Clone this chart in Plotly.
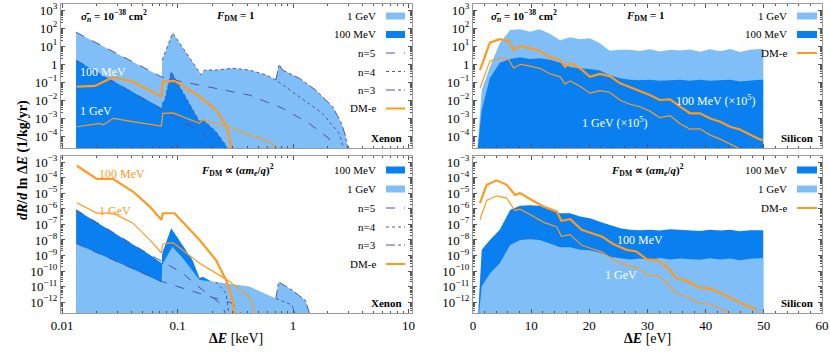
import plotly.graph_objects as go

# ---------------- data ----------------
# Xenon, F_DM = 1 (top-left). Energies in keV, rates in 1/kg/yr
xe1_gev_E = [0.0132, 0.0728, 0.0735, 0.0906, 0.16, 0.171, 0.215, 0.30, 0.418, 0.58, 0.71,
             0.757, 0.81, 1.13, 1.57, 2.2, 2.63, 2.85, 3.04]
xe1_gev_R = [60, 0.2, 1.7, 55, 0.26, 0.48, 0.48, 0.6, 0.48, 0.26, 0.135,
             1.0, 0.48, 0.17, 0.037, 4.4e-3, 5.2e-4, 1e-4, 1e-5]
xe1_mev_E = [0.0132, 0.0728, 0.0735, 0.078, 0.088, 0.155, 0.165, 0.215, 0.263, 0.28]
xe1_mev_R = [1.7, 3.6e-3, 6e-3, 0.012, 0.39, 6.4e-4, 8.7e-4, 1.8e-4, 3e-5, 1e-5]
xe1_n5_gev_E = [0.0132, 0.0728, 0.085, 0.155, 0.418, 0.81, 1.37, 2.04, 2.25]
xe1_n5_gev_R = [60, 0.2, 0.15, 0.07, 0.0195, 3.6e-3, 5.3e-4, 7.7e-5, 1e-5]
xe1_n4_gev_E = [0.0735, 0.0906, 0.16, 0.171, 0.215, 0.30, 0.418, 0.58, 0.71, 1.13, 1.79, 2.5, 2.84]
xe1_n4_gev_R = [1.7, 55, 0.26, 0.48, 0.48, 0.6, 0.48, 0.26, 0.135, 0.016, 1.9e-3, 1.5e-4, 1e-5]
xe1_n3_gev_E = [0.71, 0.757, 0.81, 1.13, 1.57, 2.2, 2.63, 2.85, 3.04]
xe1_n3_gev_R = [0.135, 1.0, 0.48, 0.17, 0.037, 4.4e-3, 5.2e-4, 1e-4, 1e-5]
xe1_n5_mev_E = [0.0132, 0.0728, 0.09, 0.111, 0.165, 0.215]
xe1_n5_mev_R = [1.7, 3.2e-3, 1.5e-3, 6e-4, 1.8e-4, 1e-5]
xe1_n4_mev_E = [0.0735, 0.078, 0.088, 0.155, 0.165, 0.215, 0.263, 0.28]
xe1_n4_mev_R = [6e-3, 0.012, 0.39, 6.4e-4, 8.7e-4, 1.8e-4, 3e-5, 1e-5]
xe1_dme_mev_E = [0.0134, 0.0192, 0.0277, 0.041, 0.0723, 0.0745, 0.094, 0.119, 0.155, 0.215, 0.263, 0.285, 0.295]
xe1_dme_mev_R = [0.057, 0.063, 0.19, 0.107, 0.016, 0.11, 0.12, 0.045, 0.016, 2.9e-3, 4.3e-4, 5e-5, 1e-5]
xe1_dme_gev_E = [0.0134, 0.0212, 0.0227, 0.0277, 0.041, 0.0723, 0.0745, 0.091, 0.155, 0.165, 0.30, 0.418, 0.58, 0.71, 0.75]
xe1_dme_gev_R = [3.4e-4, 5.2e-4, 4.3e-4, 1e-3, 6.5e-4, 3.7e-4, 1.9e-3, 2e-3, 5.2e-4, 8e-4, 2.8e-4, 1.2e-4, 6.3e-5, 2.6e-5, 1.5e-5]

# Xenon, F_DM ~ (alpha m_e / q)^2 (bottom-left)
xe2_mev_E = [0.0132, 0.0574, 0.0728, 0.0735, 0.088, 0.135, 0.155, 0.165, 0.2, 0.205]
xe2_mev_R = [8.7e-7, 1.1e-9, 3.2e-10, 1.4e-9, 5.6e-8, 5e-10, 3.4e-11, 4.3e-11, 2e-11, 1e-14]
xe2_gev_E = [0.0132, 0.0574, 0.0728, 0.0735, 0.09, 0.111, 0.155, 0.215, 0.418, 0.71, 0.75,
             0.98, 1.28, 1.57]
xe2_gev_R = [6e-9, 4.3e-11, 1.8e-11, 2.5e-10, 3.7e-9, 6.6e-10, 2.6e-11, 2e-11, 1e-11, 1.7e-12, 2e-11,
             5.9e-12, 1.3e-12, 1e-14]
xe2_n5_mev_E = [0.0132, 0.0574, 0.0745, 0.111, 0.165, 0.245, 0.29]
xe2_n5_mev_R = [8.7e-7, 1.1e-9, 4e-10, 7e-11, 5.9e-12, 6.5e-13, 1e-14]
xe2_n5_gev_E = [0.0132, 0.0574, 0.0745, 0.155, 0.30, 0.50]
xe2_n5_gev_R = [6e-9, 4.3e-11, 2e-11, 3.6e-12, 8.3e-13, 1e-14]
xe2_n4_gev_E = [0.215, 0.263, 0.29]
xe2_n4_gev_R = [2e-11, 3.6e-12, 1e-14]
xe2_n4b_gev_E = [0.71, 0.98, 1.2]
xe2_n4b_gev_R = [1.7e-12, 6.5e-13, 1e-14]
xe2_n3_gev_E = [0.71, 0.75, 0.98, 1.28, 1.57]
xe2_n3_gev_R = [1.7e-12, 2e-11, 5.9e-12, 1.3e-12, 1e-14]
xe2_dme_mev_E = [0.0134, 0.0199, 0.0277, 0.041, 0.0574, 0.0723, 0.0745, 0.094, 0.155, 0.215, 0.263, 0.30, 0.32]
xe2_dme_mev_R = [5.9e-4, 8.3e-5, 8.3e-5, 1.3e-5, 1.4e-6, 2e-7, 5.2e-7, 5.2e-7, 1e-8, 5e-10, 2.6e-11, 1.3e-12, 1e-14]
xe2_dme_gev_E = [0.0134, 0.0199, 0.0277, 0.041, 0.0574, 0.0723, 0.0745, 0.091, 0.155, 0.215, 0.27, 0.418, 0.54]
xe2_dme_gev_R = [2.5e-6, 5.3e-7, 5.3e-7, 1.2e-7, 1e-8, 1.5e-9, 5.5e-9, 6.7e-9, 3.2e-10, 7e-11, 2.6e-11, 2.2e-12, 1e-14]

# Silicon (eV). F_DM = 1 top-right, F_DM ~ q^-2 bottom-right
si_E = [0.7, 1.5, 2.9, 4.6, 6.4, 8.1, 9.8, 11.5, 13.2, 15.0, 16.7, 18.4, 20.1, 21.8, 23.5, 25.3, 27.0,
        28.7, 30.4, 32.1, 33.9, 35.6, 37.3, 39.0, 40.7, 42.5, 44.2, 45.9, 47.6, 49.3, 49.9]
si1_gev_R = [1e-5, 0.037, 0.7, 15, 80, 88, 65, 88, 50, 22, 32, 25, 28, 15, 5.6, 6.5, 6.5,
             5.5, 6.8, 5.2, 6.5, 5.8, 6.6, 5.0, 6.8, 5.3, 7.0, 4.8, 6.5, 7.0, 7.0]
si1_mev_R = [1e-5, 2.9e-3, 0.17, 1.2, 2.0, 2.5, 2.0, 2.2, 1.8, 1.2, 0.7, 0.6, 0.55, 0.45, 0.25, 0.17, 0.14,
             0.13, 0.14, 0.12, 0.13, 0.14, 0.12, 0.14, 0.12, 0.13, 0.14, 0.11, 0.13, 0.14, 0.14]
si2_mev_R = [1e-14, 2.3e-9, 1e-8, 4.5e-8, 8.7e-7, 1.6e-6, 1.7e-6, 1.6e-6, 8.7e-7, 5.2e-7, 5.2e-7, 3.2e-7, 2.5e-7, 1.5e-7, 9e-8,
             5.6e-8, 4.5e-8, 4.2e-8, 4.6e-8, 4e-8, 4.8e-8, 4.4e-8, 4.5e-8, 3.8e-8, 4.6e-8, 4e-8, 4.5e-8, 3.6e-8, 4.2e-8, 4.2e-8, 4.2e-8]
si2_gev_R = [1e-14, 1e-11, 7e-11, 3.2e-10, 4.8e-9, 1e-8, 1.1e-8, 1e-8, 6.2e-9, 3.4e-9, 3.4e-9, 2.3e-9, 2.2e-9, 1.5e-9, 8.3e-10,
             6.6e-10, 5.6e-10, 6.3e-10, 5.4e-10, 6.8e-10, 5.6e-10, 6.4e-10, 6e-10, 5.4e-10, 6.6e-10, 5.5e-10, 6.3e-10, 5e-10, 6.2e-10, 6.8e-10, 6.8e-10]

si1_dme_E = [1.2, 2.9, 4.6, 6.1, 7.0, 8.2, 9.8, 11.5, 13.2, 15.0, 15.8, 16.7, 18.4, 20.1, 21.8, 23.5, 25.3,
             27.0, 28.7, 30.4, 32.1, 33.9, 35.6, 37.3, 39.0, 40.7, 42.5, 44.2, 45.9, 47.6, 49.3, 49.9]
si1_dme_mev_R = [0.48, 16, 25, 20, 6.2, 10.7, 7.7, 5.7, 2.5, 1.7, 0.74, 1.15, 0.6, 0.2, 0.29, 0.22, 0.087,
                 0.052, 0.034, 0.0195, 0.0104, 0.0114, 4.4e-3, 1.9e-3, 1.9e-3, 1e-3, 6.5e-4, 3.4e-4, 2.4e-4, 1.2e-4, 6.7e-5, 6.2e-5]
si1_dme_gev_R = [0.047, 1.5, 2.2, 1.9, 0.62, 1.0, 0.8, 0.6, 0.3, 0.2, 0.08, 0.12, 0.06, 0.025, 0.034, 0.028, 0.01,
                 6e-3, 4.4e-3, 2.5e-3, 1.1e-3, 1.4e-3, 5e-4, 2.5e-4, 2.6e-4, 1.2e-4, 7e-5, 3.6e-5, 2e-5, 8e-6, 4e-6, 3e-6]

si2_dme_E = [1.2, 2.35, 4.07, 5.79, 7.22, 8.08, 9.8, 12.1, 14.4, 15.2, 16.7, 18.7, 20.7, 22.1, 24.1, 26.4,
             28.1, 29.9, 31.6, 33.3, 35.0, 36.7, 39.0, 40.7, 42.7, 44.5, 46.5, 48.8]
si2_dme_mev_R = [2.3e-6, 3.5e-5, 6.8e-5, 3.5e-5, 7.9e-6, 1.02e-5, 4.3e-6, 1.4e-6, 6.8e-7, 1.7e-7, 2.2e-7, 4.5e-8,
                 2.5e-8, 1.7e-8, 5.5e-9, 2.3e-9, 1.8e-9, 5.6e-10, 5.1e-10, 1.9e-10, 3.4e-11, 2.4e-11, 8.3e-12,
                 7.6e-12, 3.6e-12, 1.7e-12, 7.4e-13, 3.4e-13]
si2_dme_gev_R = [2e-7, 3.5e-6, 6.9e-6, 4.9e-6, 7.8e-7, 9.5e-7, 4.3e-7, 1.4e-7, 6.8e-8, 1.7e-8, 2.2e-8, 4.5e-9,
                 2.5e-9, 1.7e-9, 5.5e-10, 2.3e-10, 1.8e-10, 5.6e-11, 5.1e-11, 1.9e-11, 3.4e-12, 2.4e-12, 8.3e-13,
                 7.6e-13, 3.6e-13, 1.7e-13, 7e-14, 3e-14]

top_tickvals = [1e-4, 1e-3, 1e-2, 1e-1, 1, 1e1, 1e2, 1e3]
top_ticktext = ["10<sup>−4</sup>", "10<sup>−3</sup>", "10<sup>−2</sup>", "10<sup>−1</sup>", "1",
                "10<sup>1</sup>", "10<sup>2</sup>", "10<sup>3</sup>"]
bot_tickvals = [10.0 ** -k for k in range(3, 13)]
bot_ticktext = ["10<sup>−%d</sup>" % k for k in range(3, 13)]
xe_tickvals = [0.01, 0.1, 1, 10]
xe_ticktext = ["0.01", "0.1", "1", "10"]

# ---------------- style ----------------
LIGHT = "#80BEF8"
DARK = "#0A7FEF"
ORANGE = "#FF9A1F"
SHELL = "#5252A8"
FLOOR = 1e-20
SERIF = "Liberation Serif"
W, H = 830, 354


def fx(p):
    return p / W


def fy(p):
    return 1 - p / H


fig = go.Figure()


def area(E, R, color, ax):
    xs = [E[0]] + list(E) + [E[-1]]
    ys = [FLOOR] + list(R) + [FLOOR]
    fig.add_trace(go.Scatter(x=xs, y=ys, fill="toself", fillcolor=color, mode="lines",
                             line=dict(width=0, color=color), hoverinfo="skip", showlegend=False,
                             xaxis="x" + ax, yaxis="y" + ax))


def line(E, R, color, width, dash, ax):
    fig.add_trace(go.Scatter(x=E, y=R, mode="lines", line=dict(color=color, width=width, dash=dash),
                             hoverinfo="skip", showlegend=False, xaxis="x" + ax, yaxis="y" + ax))


# top-left: Xenon, F_DM = 1
area(xe1_gev_E, xe1_gev_R, LIGHT, "")
area(xe1_mev_E, xe1_mev_R, DARK, "")
line(xe1_n5_gev_E, xe1_n5_gev_R, SHELL, 1, "dash", "")
line(xe1_n4_gev_E, xe1_n4_gev_R, SHELL, 1, "dot", "")
line(xe1_n3_gev_E, xe1_n3_gev_R, SHELL, 1, "dashdot", "")
line(xe1_n5_mev_E, xe1_n5_mev_R, SHELL, 1, "dash", "")
line(xe1_n4_mev_E, xe1_n4_mev_R, SHELL, 1, "dot", "")
line(xe1_dme_mev_E, xe1_dme_mev_R, ORANGE, 2.2, "solid", "")
line(xe1_dme_gev_E, xe1_dme_gev_R, ORANGE, 1.2, "solid", "")

# top-right: Silicon, F_DM = 1
area(si_E, si1_gev_R, LIGHT, "2")
area(si_E, si1_mev_R, DARK, "2")
line(si1_dme_E, si1_dme_mev_R, ORANGE, 2.2, "solid", "2")
line(si1_dme_E, si1_dme_gev_R, ORANGE, 1.2, "solid", "2")

# bottom-left: Xenon, F_DM ~ q^-2
area(xe2_mev_E, xe2_mev_R, DARK, "3")
area(xe2_gev_E, xe2_gev_R, LIGHT, "3")
line(xe2_n5_mev_E, xe2_n5_mev_R, SHELL, 1, "dash", "3")
line(xe2_n5_gev_E, xe2_n5_gev_R, SHELL, 1, "dash", "3")
line(xe2_n4_gev_E, xe2_n4_gev_R, SHELL, 1, "dot", "3")
line(xe2_n4b_gev_E, xe2_n4b_gev_R, SHELL, 1, "dot", "3")
line(xe2_n3_gev_E, xe2_n3_gev_R, SHELL, 1, "dashdot", "3")
line(xe2_dme_mev_E, xe2_dme_mev_R, ORANGE, 2.2, "solid", "3")
line(xe2_dme_gev_E, xe2_dme_gev_R, ORANGE, 1.2, "solid", "3")

# bottom-right: Silicon, F_DM ~ q^-2
area(si_E, si2_mev_R, DARK, "4")
area(si_E, si2_gev_R, LIGHT, "4")
line(si2_dme_E, si2_dme_mev_R, ORANGE, 2.2, "solid", "4")
line(si2_dme_E, si2_dme_gev_R, ORANGE, 1.2, "solid", "4")

# ---------------- axes ----------------
common = dict(showline=True, linecolor="#9a9a9a", linewidth=1, mirror="allticks", ticks="inside",
              ticklen=4, tickcolor="#555", showgrid=False, zeroline=False, automargin=False,
              tickfont=dict(family=SERIF, size=13, color="black"))
xl_dom = [fx(61), fx(412)]
xr_dom = [fx(473), fx(822)]
yt_dom = [fy(148), fy(4)]
yb_dom = [fy(313), fy(156)]

xlog = dict(common, type="log", range=[-2.01, 1.03], tickvals=xe_tickvals, ticktext=xe_ticktext,
            minor=dict(ticks="inside", ticklen=2, tickcolor="#555", dtick="D1"))
xlin = dict(common, range=[0, 60], dtick=10,
            minor=dict(ticks="inside", ticklen=2, tickcolor="#555", dtick=2))
ytop = dict(common, type="log", range=[-4.65, 3.35], tickvals=top_tickvals, ticktext=top_ticktext,
            minor=dict(ticks="inside", ticklen=2, tickcolor="#555", dtick="D1"))
ybot = dict(common, type="log", range=[-12.7, -2.6], tickvals=bot_tickvals, ticktext=bot_ticktext,
            minor=dict(ticks="inside", ticklen=2, tickcolor="#555", dtick="D1"))

fig.update_layout(
    width=W, height=H, margin=dict(l=0, r=0, t=0, b=0, autoexpand=False),
    paper_bgcolor="white", plot_bgcolor="white",
    xaxis=dict(xlog, domain=xl_dom, anchor="y", showticklabels=False),
    yaxis=dict(ytop, domain=yt_dom, anchor="x"),
    xaxis2=dict(xlin, domain=xr_dom, anchor="y2", showticklabels=False),
    yaxis2=dict(ytop, domain=yt_dom, anchor="x2"),
    xaxis3=dict(xlog, domain=xl_dom, anchor="y3"),
    yaxis3=dict(ybot, domain=yb_dom, anchor="x3"),
    xaxis4=dict(xlin, domain=xr_dom, anchor="y4"),
    yaxis4=dict(ybot, domain=yb_dom, anchor="x4"),
)

# ---------------- text ----------------
ann = []
shapes = []


def text(x, y, s, size=11, color="black", anchor="center"):
    ann.append(dict(x=fx(x), y=fy(y), xref="paper", yref="paper", text=s, showarrow=False,
                    xanchor=anchor, yanchor="middle", font=dict(family=SERIF, size=size, color=color)))


sigma = "<b><i>σ̄</i><sub><i>n</i></sub> = 10<sup>−38</sup> cm<sup>2</sup></b>"
fdm1 = "<b><i>F</i><sub>DM</sub> = 1</b>"
fdm2 = "<b><i>F</i><sub>DM</sub> ∝ (<i>αm<sub>e</sub></i>/<i>q</i>)<sup>2</sup></b>"
text(114, 16, sigma, 11)
text(235, 16, fdm1, 11)
text(524, 16, sigma, 11)
text(645, 16, fdm1, 11)
text(237, 170, fdm2, 11)
text(647, 170, fdm2, 11)
text(404, 138, "<b>Xenon</b>", 11, anchor="right")
text(404, 303, "<b>Xenon</b>", 11, anchor="right")
text(815, 138, "<b>Silicon</b>", 11, anchor="right")
text(815, 303, "<b>Silicon</b>", 11, anchor="right")

text(78, 72, "100 MeV", 12, "white", "left")
text(78, 111, "1 GeV", 12, "white", "left")
text(97, 174, "100 MeV", 12, ORANGE, "left")
text(97, 211, "1 GeV", 12, ORANGE, "left")
text(715, 100, "100 MeV (×10<sup>5</sup>)", 12, "white")
text(614, 123, "1 GeV (×10<sup>5</sup>)", 12, "white")
text(640, 240, "100 MeV", 12, "white")
text(621, 275, "1 GeV", 12, "white")


def legend(items, x_text, x0, x1, ys):
    for (label, kind, col), y in zip(items, ys):
        text(x_text, y, label, 11, anchor="right")
        if kind == "area":
            shapes.append(dict(type="rect", xref="paper", yref="paper", x0=fx(x0), x1=fx(x1),
                               y0=fy(y + 3.5), y1=fy(y - 3.5), fillcolor=col, line=dict(width=0)))
        else:
            shapes.append(dict(type="line", xref="paper", yref="paper", x0=fx(x0), x1=fx(x1),
                               y0=fy(y), y1=fy(y),
                               line=dict(color=col, width=2 if kind == "solid" else 1, dash=kind)))


leg_tl = [("1 GeV", "area", LIGHT), ("100 MeV", "area", DARK), ("n=5", "dash", SHELL),
          ("n=4", "dot", SHELL), ("n=3", "dashdot", SHELL), ("DM-e", "solid", ORANGE)]
leg_bl = [("100 MeV", "area", DARK), ("1 GeV", "area", LIGHT), ("n=5", "dash", SHELL),
          ("n=4", "dot", SHELL), ("n=3", "dashdot", SHELL), ("DM-e", "solid", ORANGE)]
legend(leg_tl, 378, 386, 405, [16, 34.5, 53, 71.5, 90, 108.5])
legend(leg_bl, 378, 386, 405, [170, 189, 208, 227, 245, 264])
legend(leg_tl[:2] + leg_tl[5:], 789, 797, 817, [16, 34.5, 53])
legend(leg_bl[:2] + leg_bl[5:], 789, 797, 817, [170, 189, 208])

ann.append(dict(x=fx(13), y=fy(160), xref="paper", yref="paper", showarrow=False, textangle=-90,
                text="<b><i>dR</i>/<i>d</i> ln Δ<i>E</i> (1/kg/yr)</b>",
                font=dict(family=SERIF, size=14, color="black")))
text(236, 338, "<b>Δ<i>E</i></b> [keV]", 14)
text(647, 338, "<b>Δ<i>E</i></b> [eV]", 14)

fig.update_layout(annotations=ann, shapes=shapes)
# drop the page's default body margin so the figure sits at the window's corner
fig.write_html("out.html", config={"displayModeBar": False},
               post_script="document.body.style.margin='0';")
